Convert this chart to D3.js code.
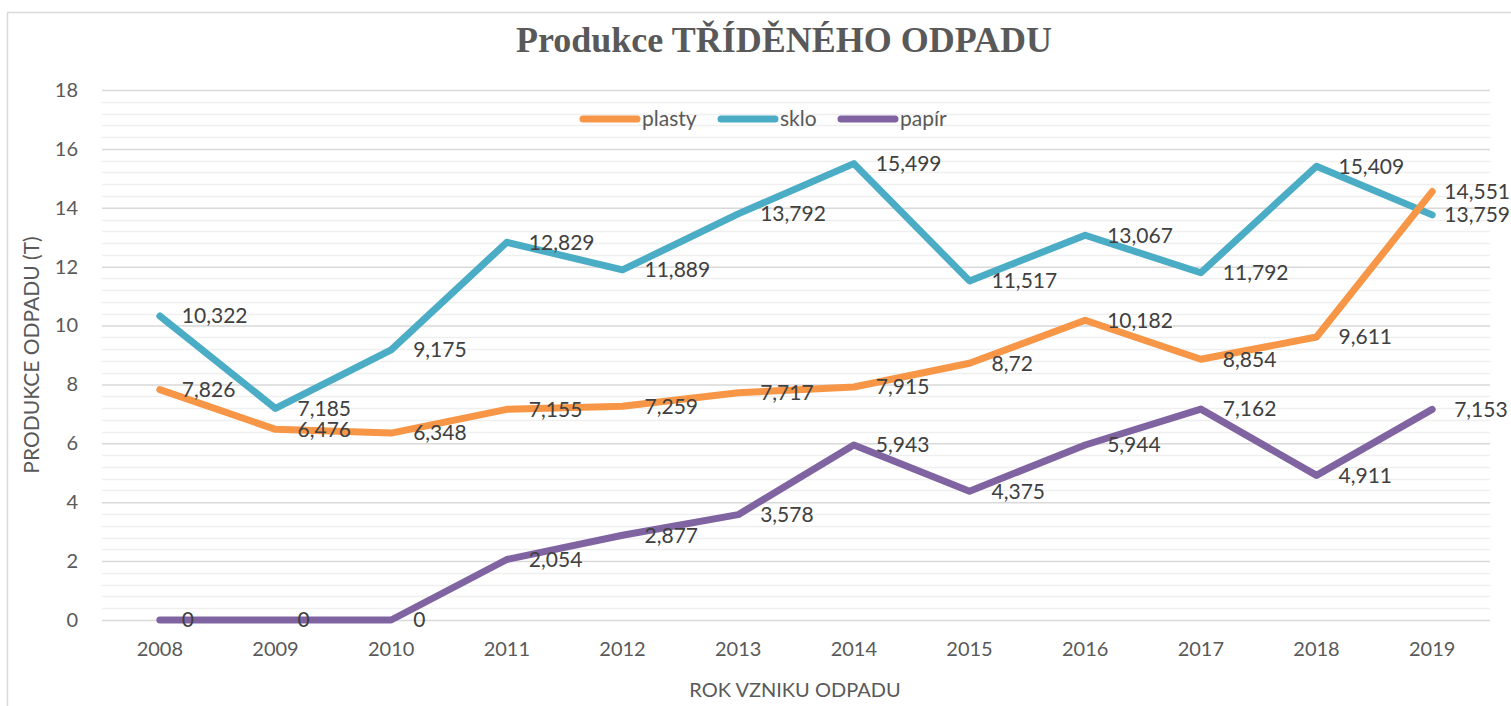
<!DOCTYPE html>
<html>
<head>
<meta charset="utf-8">
<script src="https://cdn.jsdelivr.net/npm/d3@7"></script>
<style>
  html, body { margin: 0; padding: 0; background: #fff; }
  svg { display: block; }
</style>
</head>
<body>
<svg id="chart" width="1511" height="706"></svg>
<script>
const years = ["2008","2009","2010","2011","2012","2013","2014","2015","2016","2017","2018","2019"];
const plasty = [7.826, 6.476, 6.348, 7.155, 7.259, 7.717, 7.915, 8.72, 10.182, 8.854, 9.611, 14.551];
const sklo = [10.322, 7.185, 9.175, 12.829, 11.889, 13.792, 15.499, 11.517, 13.067, 11.792, 15.409, 13.759];
const papir = [0, 0, 0, 2.054, 2.877, 3.578, 5.943, 4.375, 5.944, 7.162, 4.911, 7.153];
const seriesNames = ["plasty", "sklo", "papír"];
const seriesColors = ["#F79646", "#4BACC6", "#8064A2"];
const yTicks = [0, 2, 4, 6, 8, 10, 12, 14, 16, 18];
const titleText = "Produkce TŘÍDĚNÉHO ODPADU";
const xTitle = "ROK VZNIKU ODPADU";
const yTitle = "PRODUKCE ODPADU (T)";

(function () {
const series = [
  {name: seriesNames[0], values: plasty, color: seriesColors[0]},
  {name: seriesNames[1], values: sklo, color: seriesColors[1]},
  {name: seriesNames[2], values: papir, color: seriesColors[2]}
];

const W = 1511, H = 706;
const chartRight = 1511;
const pL = 102, pR = 1490, pT = 90, pB = 620;
const font = "Lato, 'Open Sans', sans-serif";

const svg = d3.select("#chart");

// chart border
svg.append("path").attr("d", `M7.5,${H} L7.5,12.5 L${W},12.5`)
  .attr("fill", "none").attr("stroke", "#d9d9d9").attr("stroke-width", 1.5);

const x = d3.scaleBand().domain(years).range([pL, pR]).paddingInner(0).paddingOuter(0);
const y = d3.scaleLinear().domain([0, 18]).range([pB, pT]);
const cx = d => x(d) + x.bandwidth() / 2;

// minor gridlines
const minor = d3.range(0, 18.0001, 0.4).filter(v => Math.abs(v / 2 - Math.round(v / 2)) > 1e-6);
svg.append("g").selectAll("line").data(minor).join("line")
  .attr("x1", pL).attr("x2", pR)
  .attr("y1", d => Math.round(y(d)) + 0.5).attr("y2", d => Math.round(y(d)) + 0.5)
  .attr("stroke", "#efefef").attr("stroke-width", 1.5);

// y axis with major gridlines
const yAxis = d3.axisLeft(y).tickValues(yTicks).tickSize(-(pR - pL)).tickPadding(24).tickFormat(d => String(d));
const gy = svg.append("g").attr("transform", `translate(${pL},0)`).call(yAxis);
gy.select(".domain").remove();
gy.selectAll(".tick line").attr("stroke", "#d9d9d9").attr("stroke-width", 1.5);
gy.selectAll(".tick text").attr("fill", "#595959").style("font-family", font).style("font-size", "20px");

// x axis
const xAxis = d3.axisBottom(x).tickSize(0).tickPadding(22);
const gx = svg.append("g").attr("transform", `translate(0,${pB})`).call(xAxis);
gx.select(".domain").remove();
gx.selectAll(".tick text").attr("fill", "#595959").style("font-family", font).style("font-size", "20px");

// title
svg.append("text").attr("x", 784).attr("y", 52).attr("text-anchor", "middle")
  .attr("fill", "#595959").style("font-family", "'Liberation Serif', 'DejaVu Serif', serif")
  .style("font-weight", "bold").style("font-size", "36px").text(titleText);

// axis titles
svg.append("text").attr("x", 795).attr("y", 697).attr("text-anchor", "middle")
  .attr("fill", "#595959").style("font-family", font).style("font-size", "20px").text(xTitle);
svg.append("text").attr("transform", `translate(39,355) rotate(-90)`).attr("text-anchor", "middle")
  .attr("fill", "#595959").style("font-family", font).style("font-size", "21px").text(yTitle);

// lines (plasty drawn last so it sits on top)
const line = d3.line().x((d, i) => cx(years[i])).y(d => y(d));
const drawOrder = [series[1], series[2], series[0]];
svg.append("g").selectAll("path").data(drawOrder).join("path")
  .attr("d", d => line(d.values))
  .attr("fill", "none").attr("stroke", d => d.color).attr("stroke-width", 7)
  .attr("stroke-linecap", "round").attr("stroke-linejoin", "round");

// data labels
const fmt = v => String(v).replace(".", ",");
const lg = svg.append("g");
series.forEach(s => {
  s.values.forEach((v, i) => {
    const t = lg.append("text")
      .attr("x", cx(years[i]) + 22).attr("y", y(v))
      .attr("dy", "0.35em")
      .attr("fill", "#404040").style("font-family", font).style("font-size", "21px")
      .text(fmt(v));
    const w = t.node().getComputedTextLength();
    if (cx(years[i]) + 22 + w > chartRight - 1) t.attr("x", chartRight - 1 - w);
  });
});

// legend
const legendItems = [
  {name: seriesNames[0], color: seriesColors[0], x: 583},
  {name: seriesNames[1], color: seriesColors[1], x: 721},
  {name: seriesNames[2], color: seriesColors[2], x: 841}
];
const lgd = svg.append("g");
legendItems.forEach(it => {
  lgd.append("line").attr("x1", it.x).attr("x2", it.x + 54).attr("y1", 119).attr("y2", 119)
    .attr("stroke", it.color).attr("stroke-width", 7).attr("stroke-linecap", "round");
  lgd.append("text").attr("x", it.x + 59).attr("y", 119).attr("dy", "0.35em")
    .attr("fill", "#595959").style("font-family", font).style("font-size", "21px").text(it.name);
});
})();
</script>
</body>
</html>
